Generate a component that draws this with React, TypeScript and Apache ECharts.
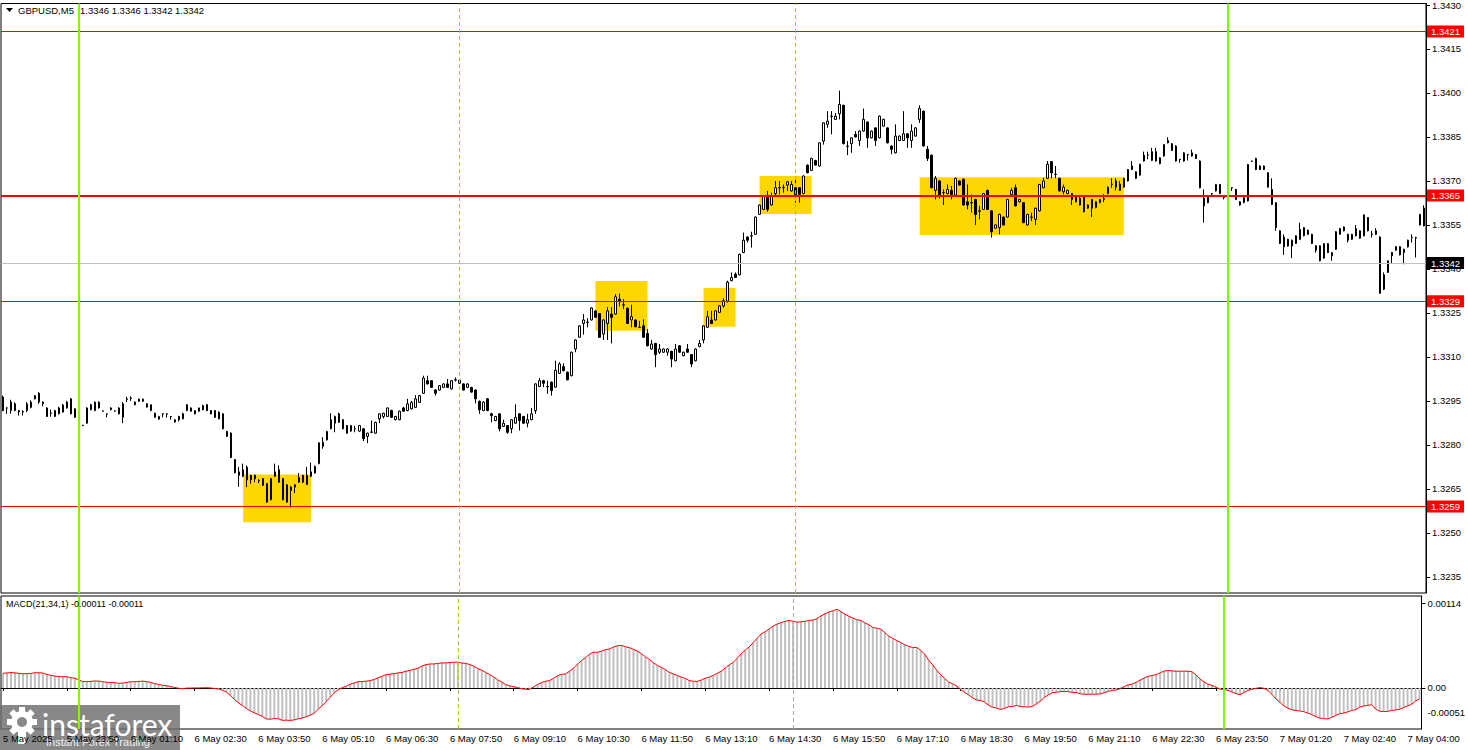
import React, { useEffect, useRef } from "react";
import * as echarts from "echarts";

// [open, close, low, high] per M5 bar
const ohlc: [number, number, number, number][] = [
  [1.32963, 1.32917, 1.32915, 1.32968], [1.32926, 1.32926, 1.32906, 1.32928], [1.32917, 1.32946, 1.32906, 1.32954], [1.3294, 1.32917, 1.32915, 1.32945],
  [1.32917, 1.32913, 1.329, 1.32919], [1.32912, 1.32914, 1.329, 1.32918], [1.32917, 1.3294, 1.32912, 1.32946], [1.32928, 1.32946, 1.32925, 1.32952],
  [1.32957, 1.32968, 1.32955, 1.3297], [1.32976, 1.32946, 1.3294, 1.3298], [1.32946, 1.3294, 1.32932, 1.32948], [1.32926, 1.32897, 1.32895, 1.32928],
  [1.32909, 1.32908, 1.32896, 1.3292], [1.32897, 1.32917, 1.32895, 1.3292], [1.32906, 1.32926, 1.32904, 1.3293], [1.32912, 1.32936, 1.3291, 1.3294],
  [1.32926, 1.32946, 1.32924, 1.3295], [1.32957, 1.32906, 1.32904, 1.3296], [1.32894, 1.32923, 1.32892, 1.32925], [1.32917, 1.32874, 1.32872, 1.3292],
  [1.32867, 1.32866, 1.32864, 1.32868], [1.32874, 1.32926, 1.32872, 1.32928], [1.3292, 1.32937, 1.32918, 1.3294], [1.32917, 1.32946, 1.32915, 1.32948],
  [1.32946, 1.32926, 1.32924, 1.32948], [1.32916, 1.32915, 1.32914, 1.32917], [1.32906, 1.32905, 1.32894, 1.32907], [1.3292, 1.32926, 1.32918, 1.32928],
  [1.32915, 1.32916, 1.32913, 1.32917], [1.32926, 1.32906, 1.32904, 1.32928], [1.32894, 1.3294, 1.32874, 1.32946], [1.32955, 1.32957, 1.32946, 1.32964],
  [1.32958, 1.3296, 1.3295, 1.32966], [1.32946, 1.32937, 1.32935, 1.32948], [1.32949, 1.32956, 1.32947, 1.32958], [1.32949, 1.32956, 1.32946, 1.32958],
  [1.3294, 1.32929, 1.32927, 1.32942], [1.32937, 1.32917, 1.32915, 1.32938], [1.32908, 1.32894, 1.32892, 1.3291], [1.32888, 1.32897, 1.32886, 1.32899],
  [1.32906, 1.32905, 1.32894, 1.32907], [1.32905, 1.32906, 1.32893, 1.32908], [1.32897, 1.32896, 1.32886, 1.32898], [1.32878, 1.32886, 1.32876, 1.32888],
  [1.32897, 1.32886, 1.3288, 1.32899], [1.32906, 1.32889, 1.32887, 1.3291], [1.32917, 1.32937, 1.32915, 1.32939], [1.32926, 1.32915, 1.32913, 1.32928],
  [1.32906, 1.32917, 1.32904, 1.32919], [1.32926, 1.32915, 1.32913, 1.32927], [1.32934, 1.3292, 1.32918, 1.32937], [1.32937, 1.32917, 1.32915, 1.3294],
  [1.32917, 1.32906, 1.32904, 1.32919], [1.32917, 1.32894, 1.32892, 1.32919], [1.32912, 1.32889, 1.32887, 1.32914], [1.32906, 1.32855, 1.32853, 1.32908],
  [1.32846, 1.32829, 1.32827, 1.32848], [1.3284, 1.32757, 1.32755, 1.32843], [1.3275, 1.32705, 1.32703, 1.32752], [1.32696, 1.32708, 1.32657, 1.32725],
  [1.32693, 1.32715, 1.3269, 1.32736], [1.32724, 1.32681, 1.32656, 1.3273], [1.32696, 1.32681, 1.32668, 1.32698], [1.32696, 1.32685, 1.32673, 1.32699],
  [1.32678, 1.32677, 1.3267, 1.32683], [1.32685, 1.32662, 1.3266, 1.32687], [1.32668, 1.32605, 1.32603, 1.3267], [1.32613, 1.32685, 1.32611, 1.32687],
  [1.32693, 1.32708, 1.3269, 1.32736], [1.32715, 1.32673, 1.32671, 1.3273], [1.32685, 1.32613, 1.32611, 1.32687], [1.32605, 1.32664, 1.32603, 1.32666],
  [1.32656, 1.32645, 1.32586, 1.3266], [1.32656, 1.32664, 1.32636, 1.32666], [1.32673, 1.32688, 1.3267, 1.32704], [1.32696, 1.32673, 1.3267, 1.32698],
  [1.32665, 1.32696, 1.32663, 1.32725], [1.32708, 1.32693, 1.3269, 1.3274], [1.32704, 1.32727, 1.32702, 1.3273], [1.32736, 1.32807, 1.32734, 1.32809],
  [1.32795, 1.32809, 1.32787, 1.32826], [1.32817, 1.32846, 1.32815, 1.32848], [1.32855, 1.32886, 1.32853, 1.32908], [1.32874, 1.32897, 1.32843, 1.329],
  [1.32906, 1.32877, 1.32875, 1.3291], [1.32886, 1.32855, 1.32853, 1.32888], [1.32866, 1.3284, 1.32838, 1.32868], [1.32847, 1.32866, 1.32845, 1.32868],
  [1.32855, 1.32854, 1.32843, 1.32865], [1.32847, 1.32866, 1.32845, 1.32868], [1.32855, 1.32821, 1.32813, 1.32857], [1.32829, 1.3284, 1.32806, 1.32842],
  [1.32843, 1.32844, 1.3284, 1.32883], [1.3284, 1.32877, 1.32838, 1.32879], [1.32889, 1.32906, 1.32874, 1.32908], [1.32897, 1.32908, 1.3289, 1.3291],
  [1.32897, 1.32926, 1.32895, 1.32928], [1.32917, 1.32894, 1.32892, 1.3292], [1.32886, 1.32897, 1.32884, 1.32899], [1.32886, 1.32915, 1.32884, 1.32917],
  [1.32926, 1.32915, 1.32913, 1.3293], [1.32917, 1.3294, 1.32915, 1.32957], [1.32923, 1.32945, 1.32921, 1.3295], [1.32928, 1.32957, 1.32926, 1.3297],
  [1.32945, 1.32968, 1.32943, 1.3297], [1.32976, 1.33028, 1.32974, 1.33036], [1.33019, 1.33008, 1.33006, 1.33036], [1.33019, 1.32996, 1.32994, 1.33021],
  [1.32987, 1.32976, 1.32968, 1.3299], [1.32987, 1.33002, 1.32985, 1.33004], [1.32996, 1.33008, 1.32994, 1.3301], [1.33008, 1.32996, 1.32994, 1.33025],
  [1.32991, 1.33019, 1.32989, 1.33021], [1.33022, 1.33021, 1.33016, 1.3303], [1.3301, 1.33021, 1.33008, 1.33023], [1.33008, 1.32987, 1.32985, 1.3301],
  [1.32996, 1.33008, 1.32994, 1.3301], [1.32996, 1.3298, 1.32978, 1.32998], [1.32987, 1.32957, 1.32942, 1.3299], [1.32949, 1.3292, 1.32906, 1.32951],
  [1.32917, 1.32946, 1.32915, 1.32949], [1.32957, 1.32917, 1.32915, 1.3296], [1.32906, 1.329, 1.32877, 1.3291], [1.32883, 1.32897, 1.32881, 1.32899],
  [1.32906, 1.32855, 1.32846, 1.32908], [1.32863, 1.32874, 1.32861, 1.32886], [1.32866, 1.32843, 1.32838, 1.32868], [1.32855, 1.32886, 1.3284, 1.32888],
  [1.32874, 1.32894, 1.32872, 1.32938], [1.32906, 1.32883, 1.32849, 1.32908], [1.32897, 1.32874, 1.32872, 1.32899], [1.32874, 1.32886, 1.3286, 1.32906],
  [1.32886, 1.32906, 1.32884, 1.32926], [1.32917, 1.33008, 1.32906, 1.3301], [1.32999, 1.33019, 1.32997, 1.33028], [1.33019, 1.3301, 1.32997, 1.33022],
  [1.32999, 1.32998, 1.32974, 1.33019], [1.33014, 1.32985, 1.32968, 1.33016], [1.32997, 1.33055, 1.32995, 1.33087], [1.33044, 1.33076, 1.33042, 1.33082],
  [1.33067, 1.33053, 1.33051, 1.33078], [1.33048, 1.33022, 1.3302, 1.3305], [1.33036, 1.33116, 1.33034, 1.33118], [1.33127, 1.33158, 1.33116, 1.3316],
  [1.33167, 1.33206, 1.33165, 1.33208], [1.33214, 1.33226, 1.33176, 1.33246], [1.33218, 1.33219, 1.33201, 1.33232], [1.33226, 1.33267, 1.33224, 1.33269],
  [1.33257, 1.33235, 1.33233, 1.3326], [1.33248, 1.33167, 1.33165, 1.3325], [1.33178, 1.33226, 1.33158, 1.33228], [1.33214, 1.33257, 1.33158, 1.3327],
  [1.33246, 1.33235, 1.33146, 1.33269], [1.33246, 1.33305, 1.33244, 1.33314], [1.33297, 1.33289, 1.33272, 1.33316], [1.33278, 1.33277, 1.33263, 1.33297],
  [1.33266, 1.33214, 1.33212, 1.33268], [1.33226, 1.33237, 1.33201, 1.33278], [1.33226, 1.33203, 1.33201, 1.33228], [1.33201, 1.332, 1.33199, 1.33223],
  [1.33206, 1.33167, 1.33165, 1.33228], [1.3318, 1.33138, 1.33136, 1.33195], [1.33127, 1.33144, 1.33125, 1.33158], [1.33146, 1.33108, 1.33065, 1.33148],
  [1.33116, 1.33127, 1.3311, 1.33144], [1.33116, 1.33127, 1.33114, 1.33129], [1.33116, 1.33127, 1.33104, 1.33129], [1.33119, 1.33093, 1.33065, 1.33121],
  [1.33087, 1.33127, 1.33085, 1.33144], [1.33138, 1.33116, 1.33114, 1.3314], [1.33104, 1.33116, 1.33102, 1.33118], [1.33127, 1.33116, 1.33114, 1.33144],
  [1.33108, 1.33076, 1.33065, 1.3311], [1.33087, 1.33127, 1.33085, 1.33129], [1.33135, 1.33146, 1.33133, 1.33158], [1.33158, 1.33206, 1.33146, 1.33208],
  [1.33201, 1.33237, 1.33199, 1.33257], [1.33226, 1.33214, 1.33212, 1.33257], [1.33226, 1.33257, 1.33224, 1.33259], [1.33252, 1.33274, 1.3325, 1.33276],
  [1.33274, 1.33292, 1.33268, 1.333], [1.3329, 1.33355, 1.33285, 1.3336], [1.3336, 1.33371, 1.33358, 1.33388], [1.33382, 1.33371, 1.33369, 1.33388],
  [1.3338, 1.3345, 1.33378, 1.33452], [1.33456, 1.33498, 1.33454, 1.33524], [1.33509, 1.33498, 1.3349, 1.33511], [1.33513, 1.33512, 1.33473, 1.33527],
  [1.33518, 1.33577, 1.33516, 1.33579], [1.33586, 1.33618, 1.33584, 1.3362], [1.33603, 1.33649, 1.33601, 1.33651], [1.33649, 1.33603, 1.33595, 1.33666],
  [1.33618, 1.33649, 1.33616, 1.3366], [1.33657, 1.33677, 1.33649, 1.337], [1.33677, 1.33676, 1.33654, 1.337], [1.33677, 1.33678, 1.3366, 1.33688],
  [1.33686, 1.33697, 1.33666, 1.337], [1.33666, 1.33688, 1.33664, 1.337], [1.33677, 1.33654, 1.33626, 1.33711], [1.33677, 1.33654, 1.33626, 1.33679],
  [1.33657, 1.33717, 1.33655, 1.33719], [1.33754, 1.33728, 1.33726, 1.33756], [1.33736, 1.33777, 1.33734, 1.33779], [1.3377, 1.33754, 1.33752, 1.33772],
  [1.33751, 1.3383, 1.33749, 1.33832], [1.33836, 1.33898, 1.33824, 1.339], [1.33893, 1.33904, 1.33881, 1.33938], [1.33921, 1.3392, 1.33859, 1.33938],
  [1.3391, 1.33921, 1.33908, 1.33932], [1.33929, 1.33961, 1.3391, 1.34008], [1.33958, 1.33827, 1.33825, 1.3396], [1.33819, 1.33818, 1.33788, 1.33836],
  [1.33827, 1.33847, 1.33796, 1.33849], [1.33859, 1.3385, 1.33848, 1.3387], [1.33838, 1.3387, 1.33819, 1.33872], [1.3387, 1.3391, 1.33868, 1.33947],
  [1.33901, 1.33847, 1.33813, 1.33903], [1.33847, 1.3387, 1.33845, 1.33872], [1.33881, 1.33838, 1.33819, 1.33883], [1.33847, 1.33921, 1.33845, 1.33923],
  [1.33887, 1.3391, 1.33885, 1.33912], [1.33881, 1.3383, 1.33828, 1.33883], [1.33819, 1.33808, 1.33791, 1.33821], [1.33796, 1.33853, 1.33794, 1.33893],
  [1.33838, 1.33853, 1.33836, 1.33855], [1.33838, 1.33861, 1.33836, 1.33938], [1.33861, 1.33847, 1.33813, 1.33863], [1.33838, 1.3387, 1.33813, 1.33893],
  [1.33853, 1.33881, 1.33851, 1.33883], [1.3391, 1.33947, 1.33898, 1.33958], [1.33938, 1.33819, 1.33817, 1.3394], [1.33808, 1.33777, 1.33768, 1.33819],
  [1.33788, 1.33677, 1.33675, 1.3379], [1.33668, 1.33709, 1.33637, 1.33717], [1.337, 1.33652, 1.3364, 1.33702], [1.3366, 1.33661, 1.33618, 1.33671],
  [1.33657, 1.33671, 1.33655, 1.33688], [1.33668, 1.33654, 1.33637, 1.33683], [1.33652, 1.33709, 1.3365, 1.33711], [1.337, 1.33686, 1.33684, 1.33702],
  [1.33706, 1.33618, 1.33616, 1.33708], [1.33629, 1.33618, 1.33603, 1.33688], [1.33626, 1.33625, 1.33592, 1.33654], [1.33637, 1.33586, 1.3355, 1.33639],
  [1.33598, 1.33597, 1.33569, 1.33615], [1.33603, 1.33657, 1.33601, 1.33659], [1.33668, 1.33603, 1.33601, 1.3367], [1.33598, 1.33527, 1.33507, 1.336],
  [1.33539, 1.3355, 1.33537, 1.33552], [1.33541, 1.33586, 1.33518, 1.33588], [1.33577, 1.3355, 1.33548, 1.33579], [1.33577, 1.33637, 1.33575, 1.33639],
  [1.33654, 1.33668, 1.33652, 1.33677], [1.33677, 1.33615, 1.33613, 1.33688], [1.33629, 1.33637, 1.33627, 1.33639], [1.33626, 1.33558, 1.33556, 1.33628],
  [1.3355, 1.33586, 1.33548, 1.33588], [1.33577, 1.33576, 1.33563, 1.33592], [1.33569, 1.33607, 1.3355, 1.33609], [1.33598, 1.33688, 1.33596, 1.3369],
  [1.33677, 1.337, 1.33675, 1.33711], [1.33709, 1.33757, 1.33707, 1.33768], [1.33766, 1.33728, 1.33709, 1.33768], [1.33722, 1.33723, 1.33709, 1.33751],
  [1.33709, 1.33666, 1.33664, 1.33711], [1.33663, 1.33679, 1.33654, 1.33688], [1.33657, 1.33668, 1.33655, 1.3367], [1.33657, 1.33637, 1.33618, 1.33659],
  [1.33645, 1.33629, 1.33627, 1.33647], [1.33618, 1.33641, 1.33616, 1.33645], [1.33645, 1.33595, 1.33593, 1.33647], [1.33607, 1.33618, 1.33605, 1.3362],
  [1.33607, 1.33637, 1.33577, 1.33639], [1.33609, 1.33629, 1.33607, 1.33631], [1.33626, 1.33637, 1.33624, 1.33639], [1.33637, 1.3364, 1.33628, 1.33655],
  [1.33657, 1.33679, 1.33655, 1.33681], [1.33689, 1.33688, 1.33677, 1.33709], [1.337, 1.33679, 1.33668, 1.33709], [1.33689, 1.33668, 1.33666, 1.337],
  [1.33679, 1.33709, 1.33677, 1.33711], [1.337, 1.33739, 1.33698, 1.33741], [1.33751, 1.33739, 1.33737, 1.33768], [1.33731, 1.33709, 1.33707, 1.33733],
  [1.3372, 1.33757, 1.33718, 1.33759], [1.33768, 1.33788, 1.33766, 1.338], [1.33788, 1.33789, 1.33774, 1.338], [1.3377, 1.338, 1.33768, 1.33813],
  [1.338, 1.33768, 1.33766, 1.33813], [1.33759, 1.33779, 1.33757, 1.33781], [1.33785, 1.33824, 1.33783, 1.33826], [1.3383, 1.33838, 1.33828, 1.33849],
  [1.33827, 1.33804, 1.33802, 1.33829], [1.33819, 1.33768, 1.33766, 1.33822], [1.33774, 1.33773, 1.33762, 1.33775], [1.33768, 1.33796, 1.33766, 1.33798],
  [1.3379, 1.33789, 1.3377, 1.33792], [1.33785, 1.33796, 1.33783, 1.33807], [1.3379, 1.33777, 1.33775, 1.33792], [1.33768, 1.33677, 1.33675, 1.3377],
  [1.33641, 1.33615, 1.33558, 1.33671], [1.33626, 1.33649, 1.33624, 1.33651], [1.33657, 1.33656, 1.33649, 1.33659], [1.33666, 1.33688, 1.33664, 1.3369],
  [1.33688, 1.33657, 1.33655, 1.3369], [1.33645, 1.33644, 1.33637, 1.33646], [1.3366, 1.33688, 1.33656, 1.337], [1.33677, 1.33676, 1.33666, 1.33678],
  [1.33671, 1.33637, 1.33635, 1.33673], [1.33629, 1.33618, 1.33616, 1.33631], [1.33626, 1.33643, 1.33624, 1.33645], [1.33632, 1.33756, 1.3363, 1.33758],
  [1.33768, 1.33767, 1.33766, 1.33769], [1.33777, 1.33739, 1.33737, 1.33779], [1.33751, 1.33739, 1.33737, 1.33753], [1.33751, 1.33739, 1.33737, 1.33753],
  [1.33728, 1.33679, 1.33677, 1.3373], [1.33671, 1.3362, 1.33618, 1.33709], [1.33626, 1.33541, 1.3353, 1.33628], [1.3353, 1.33487, 1.33485, 1.33532],
  [1.33475, 1.33509, 1.33448, 1.33518], [1.33501, 1.33478, 1.33476, 1.33503], [1.33478, 1.33498, 1.33437, 1.335], [1.33487, 1.33513, 1.33485, 1.33515],
  [1.33501, 1.33535, 1.33499, 1.33558], [1.33513, 1.33541, 1.33511, 1.33543], [1.33532, 1.33518, 1.33516, 1.33534], [1.33518, 1.33487, 1.33485, 1.3352],
  [1.33479, 1.33464, 1.33456, 1.33481], [1.33479, 1.33428, 1.33426, 1.33481], [1.33486, 1.33437, 1.33435, 1.33488], [1.33486, 1.33456, 1.33454, 1.33488],
  [1.33445, 1.33456, 1.33428, 1.33458], [1.33467, 1.33527, 1.33465, 1.33529], [1.33518, 1.33538, 1.33516, 1.3354], [1.3353, 1.33543, 1.33528, 1.33545],
  [1.33518, 1.33498, 1.3349, 1.3352], [1.33501, 1.33518, 1.33499, 1.3352], [1.33513, 1.33538, 1.33511, 1.3355], [1.3353, 1.33505, 1.33503, 1.33532],
  [1.33513, 1.33584, 1.33511, 1.33586], [1.33575, 1.3353, 1.33528, 1.33577], [1.33519, 1.33518, 1.33507, 1.3353], [1.3353, 1.33518, 1.33516, 1.33539],
  [1.33509, 1.33317, 1.33315, 1.33511], [1.33331, 1.3338, 1.33328, 1.33388], [1.33388, 1.33428, 1.33386, 1.3343], [1.33456, 1.33445, 1.33418, 1.33458],
  [1.33464, 1.33476, 1.33462, 1.33478], [1.33476, 1.33448, 1.33446, 1.33478], [1.33456, 1.33467, 1.33416, 1.33469], [1.33475, 1.33498, 1.33473, 1.335],
  [1.33508, 1.33507, 1.3349, 1.33518], [1.33505, 1.33507, 1.33439, 1.3351], [1.3355, 1.33586, 1.33548, 1.33588], [1.33607, 1.33547, 1.33545, 1.33617],
];

// time labels (M5): 5 May 22:30 .. 6 May 23:55, then 7 May from 00:10
const MONTH = "May";
const timeLabels: string[] = [];
{
  const pad = (n: number) => (n < 10 ? "0" + n : "" + n);
  for (let i = 0; i < ohlc.length; i++) {
    let day: number, mins: number;
    if (i <= 305) {
      mins = 22 * 60 + 30 + 5 * i;
      day = 5 + Math.floor(mins / 1440);
      mins = mins % 1440;
    } else {
      day = 7;
      mins = 10 + 5 * (i - 306);
    }
    timeLabels.push(i === 0 ? "5 May 2025" : `${day} ${MONTH} ${pad(Math.floor(mins / 60))}:${pad(mins % 60)}`);
  }
}

const priceTicks = [1.343, 1.3415, 1.34, 1.3385, 1.337, 1.3355, 1.334, 1.3325, 1.331, 1.3295, 1.328, 1.3265, 1.325, 1.3235];
const levelPrices = [1.3421, 1.3365, 1.3329, 1.3259];
const levelWidths = [1, 2, 1, 1];
const bidPrice = 1.3342;
const dayStartBars = [19, 306];
const sessionBars = [114, 198];
// zones: [fromBar, toBar, topPrice, bottomPrice]
const zones: [number, number, number, number][] = [
  [60, 77, 1.32699, 1.32536],
  [148, 161, 1.33359, 1.33189],
  [175, 183, 1.33335, 1.33203],
  [189, 202, 1.33717, 1.33587],
  [229, 280, 1.33713, 1.33516],
];
// MACD(21,34,1): EMA states at the first visible bar sit below its close (history before
// the window), chosen so the first MACD value matches the picture (~+0.0002)
const ema21StartBelowClose = 0.0003;
const ema34StartBelowClose = 0.0005;
const macdTicks = [0.00114, 0, -0.00051];
const headerText = "1.3346 1.3346 1.3342 1.3342";
const macdText = "MACD(21,34,1) -0.00011 -0.00011";

const FONT = "Liberation Sans, Arial, sans-serif";

function ema(values: number[], period: number, start: number): number[] {
  const k = 2 / (period + 1);
  const out: number[] = [];
  let prev = start;
  values.forEach((v, i) => {
    prev = i === 0 ? start : v * k + prev * (1 - k);
    out.push(prev);
  });
  return out;
}

export default function App() {
  const ref = useRef<HTMLDivElement>(null);
  useEffect(() => {
    document.body.style.margin = "0";
    if (!ref.current) return;
    const chart = echarts.init(ref.current, undefined, { renderer: "svg" });
    const closes = ohlc.map((c) => c[1]);
    const e21 = ema(closes, 21, closes[0] - ema21StartBelowClose);
    const e34 = ema(closes, 34, closes[0] - ema34StartBelowClose);
    const macd = e21.map((v, i) => +(v - e34[i]).toFixed(6));

    const vLines = (pane: number) => [
      ...dayStartBars.map((b) => ({ xAxis: b, lineStyle: { color: "#7CFC00", width: 2, type: "solid", opacity: 1 } })),
      ...sessionBars.map((b, k) => ({
        xAxis: b,
        lineStyle: { color: pane === 1 && k === 1 ? "#A8A8A8" : "#9ACD32", width: 1, type: [4, 3], opacity: 1 },
      })),
    ];

    chart.setOption({
      animation: false,
      backgroundColor: "#ffffff",
      textStyle: { fontFamily: FONT },
      grid: [
        { left: 1, top: 2, width: 1425, height: 591, show: true, borderColor: "#000", borderWidth: 1, backgroundColor: "transparent" },
        { left: 1, top: 596, width: 1425, height: 133, show: true, borderColor: "#000", borderWidth: 1, backgroundColor: "transparent" },
      ],
      xAxis: [
        {
          gridIndex: 0, type: "category", data: timeLabels, boundaryGap: true,
          axisLine: { show: false }, axisTick: { show: false }, axisLabel: { show: false }, splitLine: { show: false },
        },
        {
          gridIndex: 1, type: "category", data: timeLabels, boundaryGap: true,
          axisLine: { show: true, lineStyle: { color: "#000", width: 1 } },
          axisTick: { show: true, interval: 15, alignWithLabel: true, length: 3, lineStyle: { color: "#000" } },
          axisLabel: { interval: 15, align: "left", color: "#000", fontSize: 9.5, fontFamily: FONT, margin: 4 },
          splitLine: { show: false },
        },
      ],
      yAxis: [
        {
          gridIndex: 0, type: "value", position: "right", min: 1.32295, max: 1.34305,
          splitLine: { show: false },
          axisLine: { show: true, lineStyle: { color: "#000" } },
          axisTick: { show: true, customValues: priceTicks, length: 4, lineStyle: { color: "#000" } },
          axisLabel: { customValues: priceTicks, formatter: (v: number) => v.toFixed(4), color: "#000", fontSize: 9.5, fontFamily: FONT, margin: 6 },
        },
        {
          gridIndex: 1, type: "value", position: "right", min: -0.000554, max: 0.001243,
          splitLine: { show: false },
          axisLine: { show: true, lineStyle: { color: "#000" } },
          axisTick: { show: true, customValues: [macdTicks[0], macdTicks[1]], length: 4, lineStyle: { color: "#000" } },
          axisLabel: {
            customValues: macdTicks,
            formatter: (v: number) => (v === 0 ? "0.00" : v < 0 ? "{b|" + v.toFixed(5) + "}" : v.toFixed(5)),
            rich: { b: { padding: [0, 0, 26, 0], fontSize: 9.5, fontFamily: FONT, color: "#000" } },
            color: "#000", fontSize: 9.5, fontFamily: FONT, margin: 6,
          },
        },
      ],
      series: [
        {
          name: "GBPUSD", type: "candlestick", xAxisIndex: 0, yAxisIndex: 0, data: ohlc, barWidth: 2, z: 3,
          itemStyle: { color: "#ffffff", color0: "#000000", borderColor: "#000000", borderColor0: "#000000", borderColorDoji: "#000000", borderWidth: 1 },
          markArea: {
            silent: true, z: 1,
            itemStyle: { color: "#FFD700", opacity: 1 },
            data: zones.map((z) => [{ xAxis: z[0], yAxis: z[2] }, { xAxis: z[1], yAxis: z[3] }]),
          },
          markLine: {
            silent: true, symbol: "none", z: 5, precision: 4,
            emphasis: { disabled: true },
            data: [
              {
                yAxis: bidPrice, lineStyle: { color: "#C0C0C0", width: 1, type: "solid", opacity: 1 },
                label: { show: true, position: "end", formatter: bidPrice.toFixed(4), color: "#fff", backgroundColor: "#000", padding: [1, 4, 1, 4], fontSize: 9.5, fontFamily: FONT, distance: 1 },
              },
              ...levelPrices.map((p, k) => ({
                yAxis: p, lineStyle: { color: "#FF0000", width: levelWidths[k], type: "solid", opacity: 1 },
                label: { show: true, position: "end", formatter: p.toFixed(4), color: "#fff", backgroundColor: "#FF0000", padding: [1, 4, 1, 4], fontSize: 9.5, fontFamily: FONT, distance: 1 },
              })),
              ...vLines(0).map((l) => ({ ...l, label: { show: false } })),
            ],
          },
        },
        {
          name: "MACD", type: "bar", xAxisIndex: 1, yAxisIndex: 1, data: macd, barWidth: 2,
          itemStyle: { color: "#C0C0C0" },
          markLine: { silent: true, symbol: "none", label: { show: false }, emphasis: { disabled: true }, data: vLines(1) },
        },
        {
          name: "Signal", type: "line", xAxisIndex: 1, yAxisIndex: 1, data: macd, showSymbol: false,
          lineStyle: { color: "#FF0000", width: 1 }, z: 4,
        },
      ],
      graphic: [
        { type: "polygon", shape: { points: [[6, 8], [13, 8], [9.5, 12]] }, style: { fill: "#000" }, z: 100 },
        { type: "text", x: 18, y: 10, style: { text: "GBPUSD,M5", fill: "#000", font: `9.5px ${FONT}`, verticalAlign: "middle" }, z: 100 },
        { type: "text", x: 80, y: 10, style: { text: headerText, fill: "#000", font: `9.5px ${FONT}`, verticalAlign: "middle" }, z: 100 },
        { type: "text", x: 6, y: 604, style: { text: macdText, fill: "#000", font: `9px ${FONT}`, verticalAlign: "middle" }, z: 100 },
        {
          type: "group", z: 200,
          children: [
            { type: "rect", shape: { x: 0, y: 705, width: 180, height: 45 }, style: { fill: "rgba(110,110,110,0.82)" } },
            { type: "ring", shape: { cx: 22, cy: 722, r: 11, r0: 5 }, style: { fill: "#fff" } },
            ...[0, 45, 90, 135, 180, 225, 270, 315].map((a) => ({
              type: "rect", shape: { x: -3, y: -15, width: 6, height: 6 }, x: 22, y: 722, rotation: (a * Math.PI) / 180, style: { fill: "#fff" },
            })),
            { type: "rect", shape: { x: 18, y: 730, width: 8, height: 14 }, style: { fill: "#fff" } },
            { type: "text", x: 42, y: 724, style: { text: "instaforex", fill: "#fff", font: `30px Lato, ${FONT}`, verticalAlign: "middle" } },
            { type: "text", x: 46, y: 742, style: { text: "Instant Forex Trading", fill: "#f0f0f0", font: `11px ${FONT}`, verticalAlign: "middle" } },
          ],
        },
      ],
    });
    return () => chart.dispose();
  }, []);
  return <div ref={ref} style={{ width: 1468, height: 750 }} />;
}
